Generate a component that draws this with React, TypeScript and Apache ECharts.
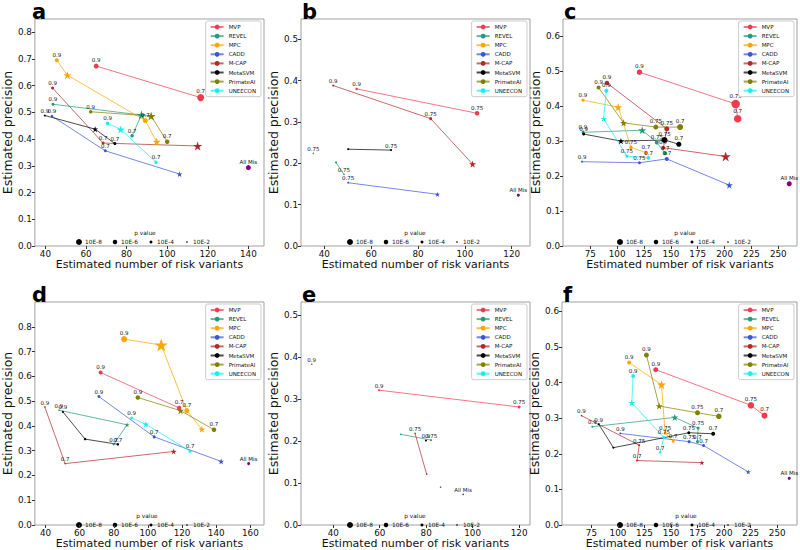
import React, { useEffect, useRef } from "react";
import * as echarts from "echarts";

// point: [x (estimated number of risk variants), y (estimated precision), -log10(p), label, marker ("o" circle, "*" star)]
type Pt = [number, number, number, string, string];

const METHODS = ["MVP", "REVEL", "MPC", "CADD", "M-CAP", "MetaSVM", "PrimateAI", "UNEECON"];
const ALL_MIS = "All Mis";
const P_LEVELS = [8, 6, 4, 2];
const P_LABELS = ["10E-8", "10E-6", "10E-4", "10E-2"];
const PANEL_LETTERS = ["a", "b", "c", "d", "e", "f"];

const PANEL_A: Record<string, Pt[]> = {
  MVP: [[65, 0.673, 6.7, "0.9", "o"], [116.5, 0.555, 9.3, "0.7", "o"]],
  REVEL: [[43.7, 0.53, 4, "0.9", "o"], [87.3, 0.49, 8.6, "", "*"], [82.7, 0.412, 4.7, "0.7", "o"]],
  MPC: [[45.6, 0.695, 5.3, "0.9", "o"], [50.8, 0.639, 7.6, "", "*"], [89.2, 0.469, 6.7, "0.7", "o"], [94.8, 0.39, 7.6, "", "*"]],
  CADD: [[43.2, 0.486, 3.3, "0.9", "o"], [69.5, 0.356, 4, "0.7", "o"], [106.1, 0.269, 5.7, "", "*"]],
  "M-CAP": [[43.5, 0.591, 4, "0.9", "o"], [68.4, 0.385, 4, "0.7", "o"], [115, 0.374, 8.6, "", "*"]],
  MetaSVM: [[39.7, 0.488, 2.7, "0.9", "o"], [64.5, 0.437, 5.7, "", "*"], [74.2, 0.383, 4, "0.7", "o"]],
  PrimateAI: [[62.3, 0.502, 4.7, "0.9", "o"], [92.1, 0.486, 8.6, "", "*"], [100, 0.39, 6, "0.7", "o"]],
  UNEECON: [[70.6, 0.459, 4.7, "0.9", "o"], [77.1, 0.436, 7.6, "", "*"], [94.5, 0.313, 4.7, "0.7", "o"]],
  "All Mis": [[140, 0.293, 6.7, "All Mis", "o"]],
};

const PANEL_B: Record<string, Pt[]> = {
  MVP: [[53.8, 0.38, 3.3, "0.9", "o"], [105.2, 0.321, 6, "0.75", "o"]],
  REVEL: [[45, 0.202, 2.7, "", "o"], [48.4, 0.173, 2, "0.75", "o"]],
  CADD: [[50.2, 0.153, 2.7, "0.75", "o"], [88.3, 0.125, 4.8, "", "*"]],
  "M-CAP": [[43.8, 0.388, 2.7, "0.9", "o"], [85.4, 0.308, 4, "0.75", "o"], [103.3, 0.198, 6.7, "", "*"]],
  MetaSVM: [[50.2, 0.234, 2.7, "", "o"], [68.5, 0.232, 2.7, "0.75", "o"]],
  PrimateAI: [[35.3, 0.224, 2, "0.75", "o"]],
  "All Mis": [[122.8, 0.123, 4, "All Mis", "o"]],
};

const PANEL_C: Record<string, Pt[]> = {
  MVP: [[120.8, 0.497, 7.3, "0.9", "o"], [210.3, 0.406, 11.3, "0.75", "o"], [212.2, 0.364, 10, "0.7", "o"]],
  REVEL: [[68.2, 0.325, 4, "0.9", "o"], [123.3, 0.331, 7.6, "", "*"], [136.9, 0.296, 5.3, "0.75", "o"], [144.7, 0.265, 5.3, "0.7", "o"]],
  MPC: [[68.2, 0.417, 4, "0.9", "o"], [101, 0.397, 7.6, "", "*"], [112.8, 0.282, 4.7, "0.75", "o"], [126.7, 0.267, 4.7, "0.7", "o"]],
  CADD: [[67.3, 0.241, 2.7, "0.9", "o"], [120.8, 0.238, 4, "0.75", "o"], [146.2, 0.249, 5.3, "0.7", "o"], [204.4, 0.174, 6.7, "", "*"]],
  "M-CAP": [[90.5, 0.466, 6, "0.9", "o"], [146.2, 0.335, 6.7, "0.75", "o"], [143.1, 0.281, 4.7, "0.7", "o"], [201, 0.256, 9.5, "", "*"]],
  MetaSVM: [[68.8, 0.32, 4, "0.9", "o"], [103.5, 0.3, 6.2, "", "*"], [144.1, 0.303, 8, "0.75", "o"], [157.4, 0.291, 6.7, "0.7", "o"]],
  PrimateAI: [[82.7, 0.453, 5.3, "0.9", "o"], [106, 0.352, 6.7, "", "*"], [136, 0.34, 6.7, "0.75", "o"], [158.6, 0.34, 8, "0.7", "o"]],
  UNEECON: [[89.9, 0.444, 5.3, "0.9", "o"], [87.4, 0.364, 5.7, "", "*"], [109, 0.257, 4, "0.75", "o"], [129.2, 0.252, 4.7, "0.7", "o"]],
  "All Mis": [[260.2, 0.178, 6.7, "All Mis", "o"]],
};

const PANEL_D: Record<string, Pt[]> = {
  MVP: [[72.3, 0.616, 5.3, "0.9", "o"], [118.3, 0.473, 6, "0.7", "o"]],
  REVEL: [[47.9, 0.464, 2, "0.9", "o"], [87.8, 0.405, 4.8, "", "*"], [79.9, 0.325, 2.7, "0.7", "o"]],
  MPC: [[86.1, 0.751, 8, "0.9", "o"], [107.8, 0.727, 12.4, "", "*"], [122.8, 0.462, 6.7, "0.7", "o"], [131.6, 0.387, 6.7, "", "*"]],
  CADD: [[71.3, 0.519, 4, "0.9", "o"], [103.7, 0.356, 4, "0.7", "o"], [142.9, 0.257, 5.7, "", "*"]],
  "M-CAP": [[39.6, 0.477, 2, "0.9", "o"], [51.5, 0.248, 2, "0.7", "o"], [115.1, 0.297, 5.7, "", "*"]],
  MetaSVM: [[50.2, 0.457, 2.7, "0.9", "o"], [63.2, 0.347, 3.3, "", "o"], [82.4, 0.326, 3.3, "0.7", "o"]],
  PrimateAI: [[94.1, 0.515, 6, "0.9", "o"], [119.1, 0.462, 6.7, "", "*"], [138.7, 0.385, 6, "0.7", "o"]],
  UNEECON: [[90.5, 0.432, 4, "0.9", "o"], [98.8, 0.407, 6.2, "", "*"], [124.7, 0.298, 4, "0.7", "o"]],
  "All Mis": [[159, 0.248, 4, "All Mis", "o"]],
};

const PANEL_E: Record<string, Pt[]> = {
  MVP: [[59.7, 0.321, 2.7, "0.9", "o"], [120, 0.281, 4, "0.75", "o"]],
  REVEL: [[69, 0.216, 2, "", "o"], [82.1, 0.202, 2.7, "0.75", "o"]],
  CADD: [[86.2, 0.09, 2, "", "o"]],
  "M-CAP": [[75.2, 0.218, 2, "0.75", "o"], [80.2, 0.121, 2, "", "o"]],
  MetaSVM: [[79.9, 0.201, 2.7, "0.9", "o"]],
  PrimateAI: [[30.7, 0.383, 2, "0.9", "o"]],
  "All Mis": [[95.9, 0.073, 2, "All Mis", "o"]],
};

const PANEL_F: Record<string, Pt[]> = {
  MVP: [[135.6, 0.436, 6.7, "0.9", "o"], [225.2, 0.336, 8.7, "0.75", "o"], [238, 0.307, 8, "0.7", "o"]],
  REVEL: [[75.9, 0.276, 2.7, "0.9", "o"], [153.5, 0.302, 6.7, "", "*"], [175.5, 0.272, 4, "0.75", "o"], [174.9, 0.234, 4, "0.7", "o"]],
  MPC: [[110.5, 0.456, 5.3, "0.9", "o"], [141, 0.394, 8.6, "", "*"], [144.4, 0.258, 4, "0.75", "o"], [152, 0.235, 4, "0.7", "o"]],
  CADD: [[102.3, 0.257, 2.7, "0.9", "o"], [167, 0.234, 4, "0.75", "o"], [180.6, 0.223, 4, "0.7", "o"], [222.7, 0.149, 4.8, "", "*"]],
  "M-CAP": [[65.6, 0.307, 2, "0.9", "o"], [120, 0.224, 2.7, "0.75", "o"], [118, 0.181, 2.7, "0.7", "o"], [179, 0.175, 4.8, "", "*"]],
  MetaSVM: [[81.9, 0.283, 2.7, "0.9", "o"], [95.7, 0.217, 2.7, "", "o"], [166.7, 0.259, 4, "0.75", "o"], [189.7, 0.256, 5.3, "0.7", "o"]],
  PrimateAI: [[126.8, 0.477, 6.7, "0.9", "o"], [138.8, 0.334, 6.7, "", "*"], [174.9, 0.315, 6.7, "0.75", "o"], [195, 0.305, 7.3, "0.7", "o"]],
  UNEECON: [[114.3, 0.418, 5.3, "0.9", "o"], [113, 0.343, 6.2, "", "*"], [143.2, 0.246, 4, "0.75", "o"], [139.7, 0.204, 3.3, "0.7", "o"]],
  "All Mis": [[261.3, 0.131, 4, "All Mis", "o"]],
};

const X_TICKS_AB = [40, 60, 80, 100, 120, 140];
const X_TICKS_B = [40, 60, 80, 100, 120];
const X_TICKS_C = [75, 100, 125, 150, 175, 200, 225, 250];
const X_TICKS_D = [40, 60, 80, 100, 120, 140, 160];
const Y_TICKS_08 = [0, 0.1, 0.2, 0.3, 0.4, 0.5, 0.6, 0.7, 0.8];
const Y_TICKS_05 = [0, 0.1, 0.2, 0.3, 0.4, 0.5];
const Y_TICKS_06 = [0, 0.1, 0.2, 0.3, 0.4, 0.5, 0.6];

const X_TITLE = "Estimated number of risk variants";
const Y_TITLE = "Estimated precision";

// ---- styles / layout ----
const FONT = "DejaVu Sans";
const COLORS: Record<string, string> = {
  MVP: "#ef3b4f",
  REVEL: "#25997a",
  MPC: "#ffa500",
  CADD: "#3a56d4",
  "M-CAP": "#b02a2a",
  MetaSVM: "#000000",
  PrimateAI: "#808000",
  UNEECON: "#14f0f0",
  "All Mis": "#800080",
};
const STAR = "path://M50,2 L61.8,37.6 L99,37.6 L69,59.6 L80.4,95 L50,73 L19.6,95 L31,59.6 L1,37.6 L38.2,37.6 Z";

const PANELS = [
  { data: PANEL_A, grid: { left: 31, top: 19, width: 233, height: 227 }, xr: [34.8, 147.7], yr: [0, 0.849], xt: X_TICKS_AB, yt: Y_TICKS_08, pv: [79, 115, 151, 187], pvt: 145 },
  { data: PANEL_B, grid: { left: 301, top: 19, width: 229, height: 227 }, xr: [30.05, 127.8], yr: [0, 0.549], xt: X_TICKS_B, yt: Y_TICKS_05, pv: [350, 386, 422, 457], pvt: 415 },
  { data: PANEL_C, grid: { left: 563, top: 19, width: 234, height: 227 }, xr: [49.6, 267.4], yr: [0, 0.649], xt: X_TICKS_C, yt: Y_TICKS_06, pv: [620, 656, 692, 728], pvt: 685 },
  { data: PANEL_D, grid: { left: 31, top: 302, width: 233, height: 227 }, xr: [33.8, 168], yr: [0, 0.901], xt: X_TICKS_D, yt: Y_TICKS_08, pv: [79, 115, 151, 187], pvt: 147 },
  { data: PANEL_E, grid: { left: 301, top: 302, width: 229, height: 227 }, xr: [26.1, 124.7], yr: [0, 0.531], xt: X_TICKS_B, yt: Y_TICKS_05, pv: [350, 386, 422, 457], pvt: 415 },
  { data: PANEL_F, grid: { left: 562, top: 302, width: 235, height: 227 }, xr: [47.3, 268.6], yr: [0, 0.626], xt: X_TICKS_C, yt: Y_TICKS_06, pv: [620, 656, 692, 728], pvt: 686 },
];

const markerSize = (nlp: number, star: boolean) => (star ? nlp * 1.05 : nlp * 0.75);

function buildOption() {
  const grids: any[] = [];
  const xAxes: any[] = [];
  const yAxes: any[] = [];
  const series: any[] = [];
  const legends: any[] = [];
  const graphics: any[] = [];

  PANELS.forEach((p, i) => {
    grids.push({ ...p.grid, show: true, borderColor: "#a0a0a0", borderWidth: 1, containLabel: false });
    xAxes.push({
      type: "value", gridIndex: i, min: p.xr[0], max: p.xr[1],
      axisLine: { show: false }, splitLine: { show: false },
      axisTick: { show: true, length: 3, customValues: p.xt, lineStyle: { color: "#333" } },
      axisLabel: { customValues: p.xt, fontSize: 8.8, color: "#111", margin: 3, fontFamily: FONT },
      name: X_TITLE, nameLocation: "middle", nameGap: 13,
      nameTextStyle: { fontSize: 11, color: "#111", fontFamily: FONT },
    });
    yAxes.push({
      type: "value", gridIndex: i, min: p.yr[0], max: p.yr[1],
      axisLine: { show: false }, splitLine: { show: false },
      axisTick: { show: true, length: 3, customValues: p.yt, lineStyle: { color: "#333" } },
      axisLabel: { customValues: p.yt, fontSize: 8.8, color: "#111", margin: 3, fontFamily: FONT, formatter: (v: number) => v.toFixed(1) },
      name: Y_TITLE, nameLocation: "middle", nameGap: 18,
      nameTextStyle: { fontSize: 12.5, color: "#111", fontFamily: FONT },
    });

    const keys = [...METHODS, ALL_MIS];
    keys.forEach((k) => {
      const pts = p.data[k];
      const col = COLORS[k];
      series.push({
        type: "line", name: k, xAxisIndex: i, yAxisIndex: i,
        symbol: "circle", symbolSize: 4, showSymbol: true, showAllSymbol: true,
        itemStyle: { color: col },
        lineStyle: { color: col, width: 1, opacity: 0.7 },
        emphasis: { disabled: true },
        data: (pts || []).map((q) => ({
          value: [q[0], q[1]],
          symbol: q[4] === "*" ? STAR : "circle",
          symbolSize: markerSize(q[2], q[4] === "*"),
          label: {
            show: !!q[3], formatter: q[3], position: "top", distance: 0.5,
            fontSize: 5.5, color: "#111", fontFamily: FONT,
          },
        })),
      });
    });

    const right = 800 - (p.grid.left + p.grid.width) + 3;
    legends.push({
      data: METHODS, orient: "vertical", right, top: p.grid.top + 2,
      itemWidth: 13, itemHeight: 6, itemGap: 3.1, padding: [3, 5, 3, 4],
      borderColor: "#cccccc", borderWidth: 1, borderRadius: 2, backgroundColor: "#ffffff",
      textStyle: { fontSize: 5.5, color: "#111", fontFamily: FONT, lineHeight: 6 },
      selectedMode: false,
    });

    // panel letter
    graphics.push({
      type: "text", x: p.grid.left + 1, y: p.grid.top - 18,
      style: { text: PANEL_LETTERS[i], fontSize: 21, fontWeight: "bold", fontFamily: FONT, fill: "#000", align: "left", verticalAlign: "top" },
    });
    // p-value size legend
    const bottom = p.grid.top + p.grid.height;
    graphics.push({
      type: "text", x: p.pvt, y: bottom - 13,
      style: { text: "p value", fontSize: 5.8, fontFamily: FONT, fill: "#111", align: "center", verticalAlign: "middle" },
    });
    P_LEVELS.forEach((lv, j) => {
      graphics.push({
        type: "circle", shape: { cx: p.pv[j], cy: bottom - 4, r: markerSize(lv, false) / 2 },
        style: { fill: "#000" },
      });
      graphics.push({
        type: "text", x: p.pv[j] + 6, y: bottom - 4,
        style: { text: P_LABELS[j], fontSize: 5.8, fontFamily: FONT, fill: "#111", align: "left", verticalAlign: "middle" },
      });
    });
  });

  return {
    animation: false,
    backgroundColor: "#ffffff",
    textStyle: { fontFamily: FONT },
    grid: grids, xAxis: xAxes, yAxis: yAxes, series, legend: legends, graphic: graphics,
  };
}

export default function App() {
  const ref = useRef<HTMLDivElement>(null);
  useEffect(() => {
    if (!ref.current) return;
    const chart = echarts.init(ref.current, undefined, { renderer: "svg" });
    chart.setOption(buildOption() as any);
    return () => chart.dispose();
  }, []);
  return <div ref={ref} style={{ position: "absolute", left: 0, top: 0, width: 800, height: 550 }} />;
}
